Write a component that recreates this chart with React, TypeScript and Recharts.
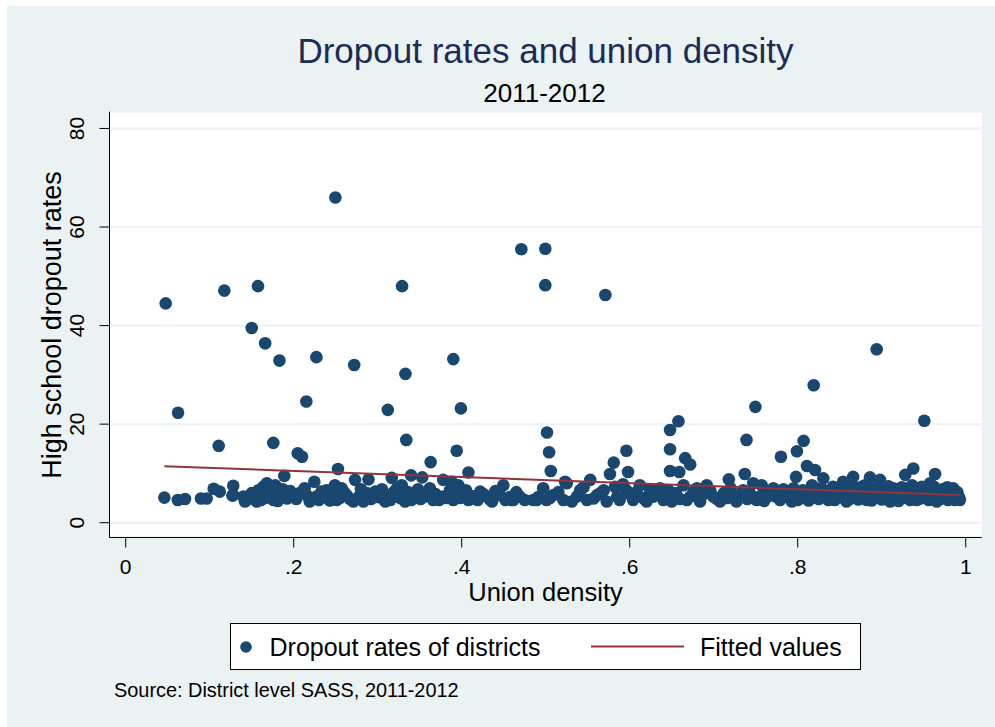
import { ScatterChart, Scatter, XAxis, YAxis, CartesianGrid } from 'recharts'

const xTicks = [0, 0.2, 0.4, 0.6, 0.8, 1]
const xTickLabels = ['0', '.2', '.4', '.6', '.8', '1']
const yTicks = [0, 20, 40, 60, 80]

// [union density, dropout rate] for districts well above the band
const highPoints: [number, number][] = [
  [0.0476, 44.5], [0.0623, 22.3], [0.1174, 47.1], [0.1575, 48.0], [0.150, 39.5],
  [0.166, 36.4], [0.183, 32.9], [0.227, 33.6], [0.2496, 66.0], [0.215, 24.6],
  [0.272, 32.0], [0.312, 22.9], [0.329, 48.0], [0.333, 30.2], [0.390, 33.2],
  [0.399, 23.2], [0.471, 55.5], [0.4995, 55.6], [0.4995, 48.2], [0.571, 46.2],
  [0.658, 20.6], [0.7496, 23.5], [0.819, 27.9], [0.894, 35.2], [0.9507, 20.7],
]

const midPoints: [number, number][] = [
  [0.1107, 15.6], [0.1757, 16.2], [0.2048, 14.1], [0.2099, 13.4], [0.2527, 10.9],
  [0.1888, 9.5], [0.2245, 8.3], [0.273, 8.7], [0.289, 8.8], [0.3167, 9.1],
  [0.334, 16.8], [0.394, 14.6], [0.363, 12.3], [0.408, 10.2], [0.3397, 9.6],
  [0.353, 9.2], [0.378, 8.7], [0.388, 8.3], [0.5015, 18.3], [0.504, 14.3],
  [0.506, 10.5], [0.523, 8.3], [0.553, 8.7], [0.596, 14.6], [0.581, 12.2],
  [0.5765, 9.9], [0.598, 10.3], [0.648, 18.8], [0.648, 14.9], [0.648, 10.5],
  [0.659, 10.3], [0.666, 13.1], [0.672, 11.8], [0.739, 16.8], [0.737, 9.9],
  [0.718, 8.8], [0.780, 13.4], [0.799, 14.5], [0.807, 16.6], [0.811, 11.5],
  [0.8206, 10.7], [0.798, 9.3], [0.8305, 9.0], [0.854, 8.3], [0.866, 9.3],
  [0.886, 9.2], [0.898, 8.7], [0.928, 9.7], [0.9376, 11.0], [0.9635, 9.9],
  [0.525, 8.0], [0.747, 8.0], [0.9575, 8.0],
]

const bandPoints: [number, number][] = [
  // left end
  [0.046, 5.1], [0.062, 4.6], [0.0706, 4.8], [0.0896, 4.9], [0.0964, 4.9],
  [0.1047, 6.9], [0.112, 6.3], [0.127, 5.5], [0.128, 7.5], [0.128, 5.6],
  [0.140, 5.3], [0.142, 4.3], [0.150, 6.0], [0.156, 4.3], [0.158, 6.6],
  [0.164, 7.3], [0.168, 8.0], [0.170, 5.3], [0.176, 4.6], [0.178, 7.6],
  [0.184, 5.6], [0.192, 4.9], [0.1995, 5.6], [0.213, 7.0], [0.219, 4.3],
  [0.227, 5.3], [0.233, 6.3], [0.239, 6.6], [0.249, 7.6], [0.251, 4.6],
  [0.257, 7.0], [0.263, 5.6], [0.271, 4.3], [0.283, 4.3], [0.287, 6.0],
  [0.297, 6.3], [0.309, 4.3], [0.311, 5.6], [0.323, 7.0], [0.3286, 7.6],
  [0.3325, 4.3], [0.344, 5.6], [0.356, 5.3], [0.362, 7.0], [0.366, 4.6],
  [0.378, 5.3], [0.386, 6.6], [0.390, 4.6], [0.396, 7.6], [0.402, 5.6],
  [0.408, 4.6], [0.416, 4.9], [0.422, 6.3], [0.430, 5.3], [0.436, 4.3],
  [0.4456, 5.6], [0.4495, 7.6], [0.452, 4.6], [0.4614, 4.6], [0.469, 5.3],
  [0.485, 4.6], [0.497, 7.0],
  [0.146, 4.8], [0.152, 5.6], [0.161, 4.6], [0.166, 5.0], [0.172, 6.2],
  [0.181, 4.4], [0.187, 6.8], [0.196, 6.4], [0.203, 4.8], [0.207, 6.0],
  [0.216, 5.5], [0.230, 4.6], [0.236, 5.6], [0.243, 4.5], [0.246, 6.4],
  [0.255, 5.0], [0.260, 6.2], [0.267, 4.8], [0.277, 5.2], [0.280, 6.8],
  [0.292, 4.8], [0.301, 5.2], [0.305, 6.8], [0.315, 4.6], [0.319, 6.2],
  [0.327, 5.0], [0.336, 6.2], [0.340, 4.6], [0.348, 6.8], [0.351, 4.8],
  [0.359, 6.2], [0.369, 5.8], [0.373, 4.6], [0.382, 5.0], [0.393, 6.2],
  [0.398, 5.0], [0.405, 6.6], [0.412, 5.4], [0.419, 4.6], [0.426, 5.8],
  [0.433, 4.8], [0.440, 6.4], [0.457, 5.2], [0.465, 6.2], [0.475, 4.6],
  [0.491, 5.2],
  // right half
  [0.4595, 4.6], [0.4892, 4.6], [0.501, 4.6], [0.509, 5.6], [0.521, 4.6],
  [0.531, 4.3], [0.541, 6.6], [0.549, 4.6], [0.561, 5.6], [0.569, 6.6],
  [0.5726, 4.3], [0.5825, 7.3], [0.588, 4.6], [0.596, 6.6], [0.604, 4.6],
  [0.612, 7.6], [0.620, 4.3], [0.632, 6.0], [0.640, 4.6], [0.646, 6.6],
  [0.650, 4.3], [0.664, 7.6], [0.668, 4.6], [0.676, 6.3], [0.6837, 4.3],
  [0.6917, 7.6], [0.6995, 5.3], [0.7075, 4.3], [0.7233, 5.6], [0.727, 4.3],
  [0.743, 6.0], [0.751, 4.6], [0.757, 7.6], [0.763, 6.3], [0.771, 7.0],
  [0.779, 4.6], [0.787, 6.0], [0.793, 4.3], [0.803, 5.3], [0.817, 7.6],
  [0.8226, 6.0], [0.8365, 4.6], [0.842, 7.3], [0.846, 5.6], [0.858, 4.3],
  [0.870, 6.0], [0.876, 7.3], [0.882, 4.6], [0.890, 6.3], [0.902, 4.9],
  [0.910, 4.3], [0.914, 7.0], [0.9218, 5.3], [0.932, 6.3], [0.9416, 4.6],
  [0.9476, 7.3], [0.9536, 5.3], [0.9654, 4.3], [0.9734, 6.0], [0.979, 4.6],
  [0.985, 7.0], [0.989, 5.6],
  [0.505, 5.0], [0.515, 6.2], [0.537, 5.3], [0.545, 7.2], [0.557, 4.9],
  [0.565, 6.0], [0.585, 5.3], [0.592, 7.8], [0.600, 5.8], [0.608, 6.2],
  [0.616, 5.0], [0.624, 6.8], [0.628, 5.3], [0.636, 7.0], [0.644, 5.2],
  [0.655, 6.0], [0.660, 4.8], [0.672, 5.3], [0.680, 7.0], [0.688, 5.8],
  [0.696, 6.5], [0.703, 4.9], [0.712, 6.0], [0.716, 5.0], [0.720, 7.0],
  [0.731, 5.2], [0.735, 6.6], [0.740, 4.8], [0.755, 5.3], [0.760, 4.4],
  [0.767, 5.5], [0.775, 5.2], [0.783, 6.8], [0.790, 5.0], [0.795, 7.0],
  [0.800, 4.6], [0.806, 6.6], [0.808, 5.0], [0.813, 4.5], [0.815, 6.4],
  [0.819, 5.2], [0.825, 4.8], [0.828, 7.0], [0.832, 5.5], [0.834, 6.4],
  [0.839, 5.0], [0.844, 4.6], [0.848, 6.8], [0.850, 5.2], [0.852, 7.4],
  [0.856, 5.6], [0.860, 6.4], [0.862, 4.8], [0.864, 7.8], [0.868, 5.3],
  [0.872, 4.7], [0.874, 6.6], [0.878, 5.0], [0.880, 7.6], [0.884, 5.6],
  [0.888, 4.5], [0.892, 7.0], [0.894, 5.3], [0.896, 6.0], [0.900, 4.7],
  [0.904, 6.5], [0.906, 5.4], [0.908, 7.4], [0.912, 5.8], [0.916, 4.6],
  [0.918, 6.6], [0.920, 4.4], [0.924, 7.2], [0.926, 5.0], [0.934, 4.6],
  [0.936, 7.6], [0.940, 5.7], [0.944, 6.6], [0.946, 4.9], [0.950, 7.0],
  [0.952, 5.8], [0.956, 4.6], [0.958, 6.4], [0.960, 5.3], [0.962, 7.3],
  [0.967, 5.6], [0.970, 4.8], [0.972, 6.8], [0.976, 5.4], [0.978, 7.2],
  [0.982, 5.0], [0.984, 6.3], [0.987, 4.6], [0.990, 6.2], [0.992, 5.2],
  [0.993, 4.6],
]

// linear fit end points
const fitUnion = [0.046, 0.993]
const fitRate = [11.45, 5.6]

const NAVY = '#1a476f'
const MAROON = '#90353b'
const BG = '#eaf2f3'
const FONT = '"Liberation Sans", Arial, Helvetica, sans-serif'

const districts = [...highPoints, ...midPoints, ...bandPoints].map(([u, r]) => ({ union: u, rate: r }))
const fitData = fitUnion.map((u, i) => ({ union: u, rate: fitRate[i] }))

function XTick({ x, y, payload }: any) {
  const i = xTicks.indexOf(payload.value)
  return (
    <text x={x} y={y} dy={24} textAnchor="middle" fontSize={21} fill="#000" fontFamily={FONT}>
      {xTickLabels[i]}
    </text>
  )
}

function YTick({ x, y, payload }: any) {
  const bx = x - 13
  return (
    <text x={bx} y={y} transform={`rotate(-90, ${bx}, ${y})`} textAnchor="middle" fontSize={21} fill="#000" fontFamily={FONT}>
      {payload.value}
    </text>
  )
}

export default function App() {
  return (
    <div style={{ position: 'absolute', left: 0, top: 0, width: 995, height: 727, background: '#fff', fontFamily: FONT }}>
      <div style={{ position: 'absolute', left: 7, top: 6, width: 988, height: 721, background: BG }} />
      <div style={{ position: 'absolute', left: 0, top: 0 }}>
        <ScatterChart width={995} height={727} margin={{ top: 111.7, right: 13.3, bottom: 129.5, left: 30 }}>
          <CartesianGrid horizontal vertical={false} fill="#fff" stroke={BG} strokeWidth={2} />
          <XAxis
            type="number"
            dataKey="union"
            domain={[-0.0193, 1.019]}
            allowDataOverflow
            ticks={xTicks}
            tick={<XTick />}
            tickSize={10}
            height={60}
            axisLine={{ stroke: '#000', strokeWidth: 1 }}
            tickLine={{ stroke: '#000', strokeWidth: 1 }}
          />
          <YAxis
            type="number"
            dataKey="rate"
            domain={[-3, 83.4]}
            allowDataOverflow
            ticks={yTicks}
            tick={<YTick />}
            tickSize={10}
            width={79.5}
            axisLine={{ stroke: '#000', strokeWidth: 1 }}
            tickLine={{ stroke: '#000', strokeWidth: 1 }}
          />
          <Scatter
            data={districts}
            isAnimationActive={false}
            shape={(p: any) => <circle cx={p.cx} cy={p.cy} r={6.3} fill={NAVY} />}
          />
          <Scatter
            data={fitData}
            isAnimationActive={false}
            line={{ stroke: MAROON, strokeWidth: 2 }}
            shape={() => <g />}
          />
        </ScatterChart>
      </div>

      {/* titles */}
      <div style={{ position: 'absolute', left: 0, width: 1091, top: 31, textAlign: 'center', fontSize: 35, color: '#1c2c55', lineHeight: '40px', whiteSpace: 'nowrap' }}>
        Dropout rates and union density
      </div>
      <div style={{ position: 'absolute', left: 0, width: 1089, top: 78, textAlign: 'center', fontSize: 26, color: '#000', lineHeight: '30px' }}>
        2011-2012
      </div>
      <div style={{ position: 'absolute', left: 0, width: 1091, top: 577, textAlign: 'center', fontSize: 25.5, color: '#000', lineHeight: '30px' }}>
        Union density
      </div>
      <svg style={{ position: 'absolute', left: 0, top: 0 }} width={80} height={727}>
        <text x={61} y={325} transform="rotate(-90, 61, 325)" textAnchor="middle" fontSize={27} fill="#000" fontFamily={FONT}>
          High school dropout rates
        </text>
      </svg>

      {/* legend */}
      <div style={{ position: 'absolute', left: 230, top: 622.7, width: 629, height: 45.5, background: '#fff', border: '1px solid #000' }}>
        <svg width={629} height={46} style={{ position: 'absolute', left: 0, top: 0 }}>
          <circle cx={15} cy={23} r={5.8} fill={NAVY} />
          <text x={38.5} y={32} fontSize={25} fill="#000" fontFamily={FONT}>Dropout rates of districts</text>
          <line x1={360} x2={453} y1={22.5} y2={22.5} stroke={MAROON} strokeWidth={2} />
          <text x={469} y={32} fontSize={25} fill="#000" fontFamily={FONT}>Fitted values</text>
        </svg>
      </div>
      <div style={{ position: 'absolute', left: 114, top: 678, fontSize: 19.9, color: '#000', lineHeight: '24px', whiteSpace: 'nowrap' }}>
        Source: District level SASS, 2011-2012
      </div>
    </div>
  )
}
